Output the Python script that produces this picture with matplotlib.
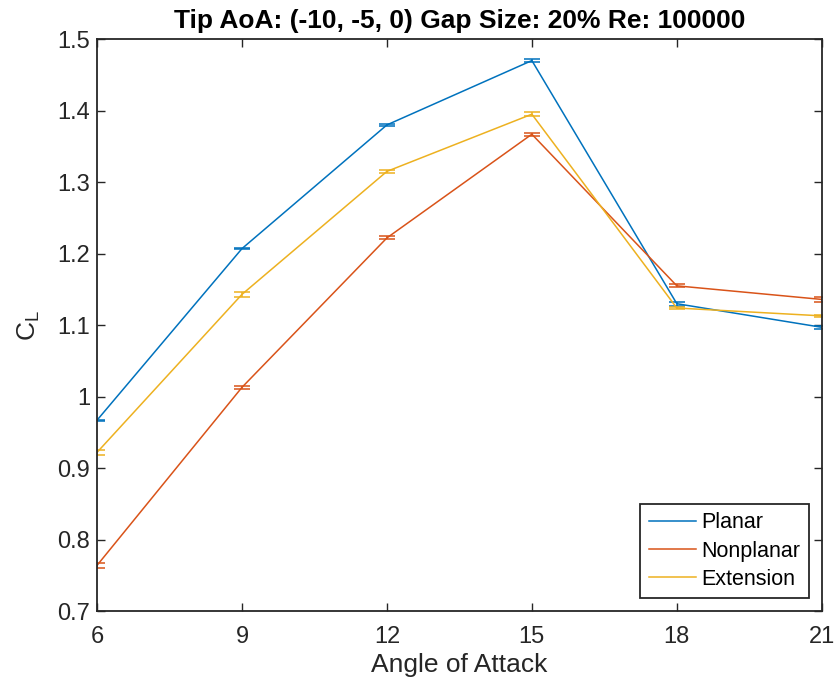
import matplotlib
matplotlib.use('Agg')
import matplotlib.pyplot as plt

plt.rcParams['font.family'] = ['Liberation Sans', 'DejaVu Sans']

aoa = [6, 9, 12, 15, 18, 21]

planar = [0.967, 1.207, 1.380, 1.470, 1.130, 1.097]
planar_err = [0.001, 0.001, 0.001, 0.002, 0.003, 0.002]
nonplanar = [0.764, 1.013, 1.222, 1.367, 1.155, 1.136]
nonplanar_err = [0.004, 0.002, 0.002, 0.002, 0.002, 0.003]
extension = [0.922, 1.143, 1.315, 1.395, 1.124, 1.113]
extension_err = [0.003, 0.003, 0.002, 0.003, 0.002, 0.001]

blue = [0, 0.447, 0.741]
red = [0.850, 0.325, 0.098]
yellow = [0.929, 0.694, 0.125]

fig = plt.figure(figsize=(8.36, 6.86), dpi=100)
ax = fig.add_axes([0.116, 0.109, 0.867, 0.834])

series = [(planar, planar_err, 'Planar', blue),
          (nonplanar, nonplanar_err, 'Nonplanar', red),
          (extension, extension_err, 'Extension', yellow)]
for vals, errs, name, col in series:
    ax.errorbar(aoa, vals, yerr=errs, color=col, linewidth=1.1, capsize=5.5,
                elinewidth=1.1, capthick=1.1, label=name)

ax.set_xlim(6, 21)
ax.set_ylim(0.7, 1.5)
ax.set_xticks(aoa)
ax.set_yticks([0.7, 0.8, 0.9, 1.0, 1.1, 1.2, 1.3, 1.4, 1.5])
ax.set_yticklabels(['0.7', '0.8', '0.9', '1', '1.1', '1.2', '1.3', '1.4', '1.5'])
ax.tick_params(direction='in', length=6, width=1, labelsize=17, colors='#262626',
               top=True, right=True)
ax.tick_params(axis='x', pad=10.5)
ax.tick_params(axis='y', pad=5)
for s in ax.spines.values():
    s.set_color('#262626')
    s.set_linewidth(1.3)

ax.set_xlabel('Angle of Attack', fontsize=19, color='#262626', labelpad=4)
ax.set_ylabel(r'C$_\mathregular{L}$', fontsize=19, color='#262626', labelpad=11)
ax.set_title('Tip AoA: (-10, -5, 0) Gap Size: 20% Re: 100000', fontsize=19,
             fontweight='bold', pad=8)

handles, labels = ax.get_legend_handles_labels()
handles = [h[0] for h in handles]
leg = ax.legend(handles, labels, loc='lower right', fontsize=15.5, fancybox=False,
                framealpha=1, edgecolor='#262626', borderaxespad=0.6,
                handlelength=2.2, handletextpad=0.25, labelspacing=0.33,
                borderpad=0.4)
leg.get_frame().set_linewidth(1.3)

fig.savefig('out.png', dpi=100)
